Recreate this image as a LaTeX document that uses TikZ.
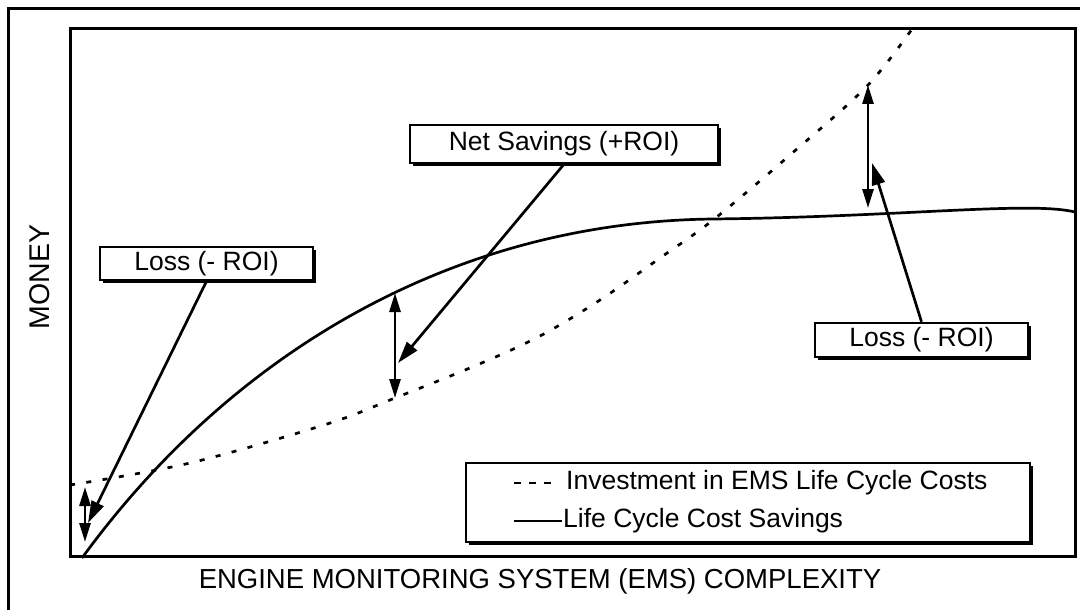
\documentclass[tikz,border=0pt]{standalone}
\usepackage{fontspec}
\setmainfont{Liberation Sans}
\usetikzlibrary{arrows.meta,shadows}

\tikzset{
  lbl/.style={font=\fontsize{26.5}{30}\selectfont},
  axistitle/.style={font=\fontsize{27.5}{31}\selectfont},
  labelbox/.style={draw, fill=white, line width=2.4pt, inner sep=0pt,
    drop shadow={shadow xshift=3pt, shadow yshift=-3pt, fill=black, opacity=1},
    font=\fontsize{26.5}{30}\selectfont},
  curve/.style={line width=2.7pt},
  dashcurve/.style={line width=2.7pt, dash pattern=on 5pt off 11.5pt},
  arr/.style={line width=2.7pt, -{Triangle[length=22pt,width=13pt]}},
  dbl/.style={line width=2.7pt, {Triangle[length=19pt,width=11pt]}-{Triangle[length=19pt,width=11pt]}},
}

\begin{document}
\begin{tikzpicture}[x=1pt,y=-1pt]
\useasboundingbox (0,0) rectangle (1080,610);
\clip (0,0) rectangle (1080,610);
\fill[white] (0,0) rectangle (1080,610);

% outer frame (runs off the page on the right and at the bottom)
\draw[line width=3pt] (8.7,640) -- (8.7,8.7) -- (1110,8.7);

% investment curve (dashed)
\draw[dashcurve] plot[smooth, tension=0.55] coordinates {
  (70,485) (190,463) (327,424) (395,398) (477,365) (540,336)
  (600,300) (660,258) (713,220) (790,155) (868,85) (917,22)};

% savings curve (solid)
\draw[curve] (82,558) .. controls (230,355) and (450,222) .. (713,219)
                      .. controls (900,217) and (1030,201) .. (1075,212);

% plot frame
\draw[line width=3pt] (70.5,28.7) rectangle (1075,556);

% gap markers
\coordinate (g1t) at (85,487);
\coordinate (g1b) at (85,542);
\coordinate (g2t) at (395,293);
\coordinate (g2b) at (395,398);
\coordinate (g3t) at (868,85);
\coordinate (g3b) at (868,208);
\draw[dbl] (g1t) -- (g1b);
\draw[dbl] (g2t) -- (g2b);
\draw[dbl] (g3t) -- (g3b);

% callouts
\node[labelbox, minimum width=213pt, minimum height=33pt] (lossL) at (206.5,263.5) {Loss (- ROI)};
\node[labelbox, minimum width=308pt, minimum height=38pt] (net) at (564,144) {Net Savings (+ROI)};
\node[labelbox, minimum width=213pt, minimum height=34pt] (lossR) at (921.5,340) {Loss (- ROI)};

\coordinate (t1) at (88,523);
\coordinate (t2) at (398,363);
\coordinate (t3) at (872,163);
\draw[arr] (lossL.south) -- (t1);
\draw[arr] (net.south) -- (t2);
\draw[arr] (lossR.north) -- (t3);

% legend
\node[labelbox, minimum width=564pt, minimum height=79pt] (leg) at (748,502.5) {};
\coordinate (d1) at (514,483);
\coordinate (d2) at (556,483);
\coordinate (s1) at (514,521);
\coordinate (s2) at (562,521);
\draw[line width=2.6pt, dash pattern=on 7pt off 8pt] (d1) -- (d2);
\draw[line width=2.2pt] (s1) -- (s2);
\node[lbl, anchor=west, inner sep=0pt] (leg1) at (566,483) {Investment in EMS Life Cycle Costs};
\node[lbl, anchor=west, inner sep=0pt] (leg2) at (563,521) {Life Cycle Cost Savings};

% axis titles
\node[axistitle] (xlab) at (540,581) {ENGINE MONITORING SYSTEM (EMS) COMPLEXITY};
\node[font=\fontsize{28.5}{32}\selectfont, rotate=90] (ylab) at (40,277) {MONEY};
\end{tikzpicture}
\end{document}
